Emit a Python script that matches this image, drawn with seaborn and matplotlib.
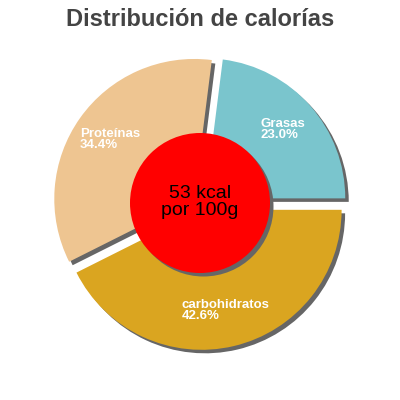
import seaborn as sns
import matplotlib.pyplot as plt
from matplotlib.patches import Circle

nutrients = ["Grasas", "Proteínas", "carbohidratos"]
percents = [23.0, 34.4, 42.6]
slice_colors = ["#7AC5CD", "#EEC591", "#DAA520"]
center_text = "53 kcal\npor 100g"
title = "Distribución de calorías"

sns.set_style("white")
plt.rcParams['font.family'] = ['Liberation Sans', 'DejaVu Sans']

fig = plt.figure(figsize=(4, 4), dpi=100)
ax = fig.add_axes([0, 0, 1, 1])
ax.set_axis_off()

explode = [0.05, 0.05, 0.05]
shadow_off = (0.025, -0.025)

# shadow pie first, then the real one on top
ax.pie(percents, colors=["#666666"] * 3, explode=explode, startangle=0,
       center=shadow_off, radius=1, wedgeprops=dict(linewidth=0))

labels = [f"{n}\n{p:.1f}%" for n, p in zip(nutrients, percents)]
wedges, texts = ax.pie(percents, colors=slice_colors, explode=explode,
                       startangle=0, radius=1, labels=labels, labeldistance=0.74,
                       wedgeprops=dict(linewidth=0),
                       textprops=dict(color="white", fontsize=9.5, fontweight="bold",
                                      linespacing=0.9))
for t in texts:
    t.set_horizontalalignment("center")
    t.set_verticalalignment("center")
    t.set_multialignment("left")

ax.add_patch(Circle(shadow_off, 0.5, color="#666666", lw=0))
ax.add_patch(Circle((0, 0), 0.5, color="#FF0000", lw=0))
ax.text(0, 0.01, center_text, ha="center", va="center", fontsize=14,
        color="black", linespacing=1.0)

ax.set_aspect("equal")
ax.set_xlim(-200 / 140, 200 / 140)
ax.set_ylim(-197 / 140, 203 / 140)

fig.text(0.5, 0.952, title, ha="center", va="center", fontsize=17,
         fontweight="bold", color="#444444")

fig.savefig("out.png", dpi=100)
